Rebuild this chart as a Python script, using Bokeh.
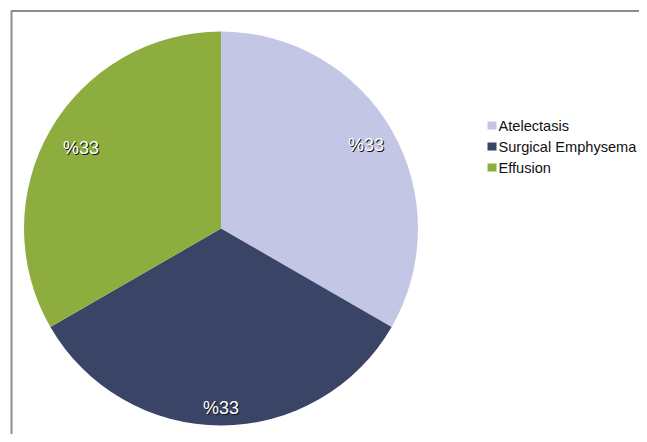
import math
from bokeh.plotting import figure
from bokeh.models import Range1d
from bokeh.core.properties import value
from bokeh.embed import file_html
from bokeh.resources import INLINE

# ---- data ----
categories = ["Atelectasis", "Surgical Emphysema", "Effusion"]
values = [33, 33, 33]
labels = ["%33", "%33", "%33"]
colors = ["#C3C7E5", "#3A4467", "#8DAD3F"]

W, H = 639, 434
p = figure(width=W, height=H, x_range=Range1d(0, W), y_range=Range1d(0, H),
           output_backend="svg", toolbar_location=None, min_border=0,
           outline_line_color=None, background_fill_color="white")
p.axis.visible = False
p.grid.visible = False

def sx(X):  # picture px -> data x
    return X
def sy(Y):  # picture px -> data y
    return H - Y

# border (top & left)
p.line([sx(11), sx(11), sx(W)], [sy(H), sy(10.5), sy(10.5)],
       line_color="#8C8C8C", line_width=2)

# pie
cx, cy, R = sx(220.5), sy(228), 197
total = sum(values)
starts, ends = [], []
a = math.pi / 2
for v in values:
    starts.append(a)
    a -= 2 * math.pi * v / total
    ends.append(a)
p.wedge(x=[cx] * len(values), y=[cy] * len(values), radius=R, radius_units="screen",
        start_angle=starts, end_angle=ends, direction="clock",
        fill_color=colors, line_color=None)

# slice labels
label_r = [0.85, 0.91, 0.82]
lx, ly = [], []
for s, e, f in zip(starts, ends, label_r):
    m = (s + e) / 2
    lx.append(cx + R * f * math.cos(m))
    ly.append(cy + R * f * math.sin(m))
p.text(x=[x + 1 for x in lx], y=[y - 1 for y in ly], text=labels,
       text_font=value("Liberation Sans"), text_font_size="18px",
       text_align="center", text_baseline="middle", text_color="#111111")
p.text(x=lx, y=ly, text=labels,
       text_font=value("Liberation Sans"), text_font_size="18px",
       text_align="center", text_baseline="middle", text_color="white")

# legend
leg_y = [sy(125 + 21 * i) for i in range(len(categories))]
p.rect(x=[sx(491.5)] * len(categories), y=leg_y, width=9, height=8,
       width_units="screen", height_units="screen", fill_color=colors, line_color=None)
p.text(x=[sx(498)] * len(categories), y=leg_y, text=categories,
       text_font=value("Liberation Sans"), text_font_size="14.6px",
       text_align="left", text_baseline="middle", text_color="#111111")

open("out.html", "w").write(file_html(p, INLINE))
